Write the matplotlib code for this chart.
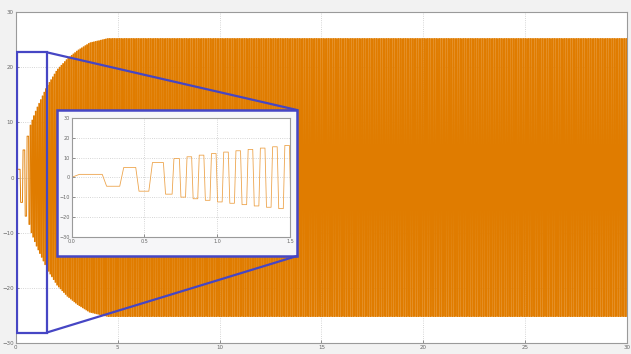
import numpy as np
import matplotlib

matplotlib.use("Agg")
import matplotlib.pyplot as plt
from matplotlib.patches import Rectangle, ConnectionPatch

# early half-cycles (start time, plateau value)
early_times = [0.0, 0.21, 0.33, 0.44, 0.53, 0.63, 0.69]
early_vals = [1.5, -4.5, 5.0, -7.0, 7.5, -8.5, 9.5]

# envelope of the later oscillation
env_t = [0.74, 1.0, 1.5, 2.0, 2.5, 3.0, 3.6, 4.5, 30.0]
env_amp = [10.0, 12.5, 16.5, 19.5, 21.5, 23.0, 24.4, 25.2, 25.2]
half_period = 0.042
t_end = 30.0

main_xticks = [0, 5, 10, 15, 20, 25, 30]
main_yticks = [-30, -20, -10, 0, 10, 20, 30]
inset_xticks = [0, 0.5, 1, 1.5]
inset_yticks = [-30, -20, -10, 0, 10, 20, 30]

zoom_box = (0.08, 1.52, -28.1, 22.7)  # x0, x1, y0, y1 in data units

ORANGE = "#E07C00"
BLUE = "#4646C4"
GRID = "#C8C8C8"
TICK = "#666666"


def build_signal():
    starts = list(early_times)
    vals = list(early_vals)
    t = env_t[0]
    sign = -1 if vals[-1] > 0 else 1
    while t < t_end:
        starts.append(t)
        vals.append(sign * np.interp(t, env_t, env_amp))
        sign = -sign
        t += half_period
    starts.append(t_end)
    xs, ys = [0.0], [0.0]
    for i in range(len(vals)):
        s, e = starts[i], starts[i + 1]
        ramp = 0.25 * (e - s)
        xs += [s + ramp, e]
        ys += [vals[i], vals[i]]
    return np.array(xs), np.array(ys)


def style_axes(ax, fs):
    ax.set_facecolor("white")
    for sp in ax.spines.values():
        sp.set_edgecolor("#9A9A9A")
        sp.set_linewidth(0.8)
    ax.tick_params(labelsize=fs, colors=TICK, length=2, width=0.5, direction="in", pad=1.5)
    ax.grid(True, color=GRID, ls=":", lw=0.6)


t, y = build_signal()

fig = plt.figure(figsize=(6.31, 3.54), dpi=100)
fig.patch.set_facecolor("#F2F2F2")

ax = fig.add_axes([0.025, 0.031, 0.969, 0.935])
ax.plot(t, y, color=ORANGE, lw=0.65)
ax.set_xlim(0, 30)
ax.set_ylim(-30, 30)
ax.set_xticks(main_xticks)
ax.set_yticks(main_yticks)
style_axes(ax, 4)

x0, x1, y0, y1 = zoom_box
ax.add_patch(Rectangle((x0, y0), x1 - x0, y1 - y0, fill=False, ec=BLUE, lw=1.6, zorder=5))

# frame around the inset, in figure fraction
fx0, fx1 = 57 / 631, 297 / 631
fy0, fy1 = 1 - 256 / 354, 1 - 110 / 354
fig.add_artist(Rectangle((fx0, fy0), fx1 - fx0, fy1 - fy0, transform=fig.transFigure,
                         fc="#F6F6F8", ec=BLUE, lw=1.8, zorder=3))
for ya, yf in [(y1, fy1), (y0, fy0)]:
    con = ConnectionPatch(xyA=(x1, ya), coordsA=ax.transData, xyB=(fx1, yf),
                          coordsB=fig.transFigure, color=BLUE, lw=1.6, zorder=4)
    fig.add_artist(con)

axin = fig.add_axes([71.7 / 631, 1 - 236.7 / 354, 218.3 / 631, 118.7 / 354], zorder=6)
axin.plot(t, y, color="#EDA54E", lw=0.6)
axin.set_xlim(0, 1.5)
axin.set_ylim(-30, 30)
axin.set_xticks(inset_xticks)
axin.set_yticks(inset_yticks)
style_axes(axin, 3.5)

fig.savefig("out.png", dpi=100, facecolor=fig.get_facecolor())
